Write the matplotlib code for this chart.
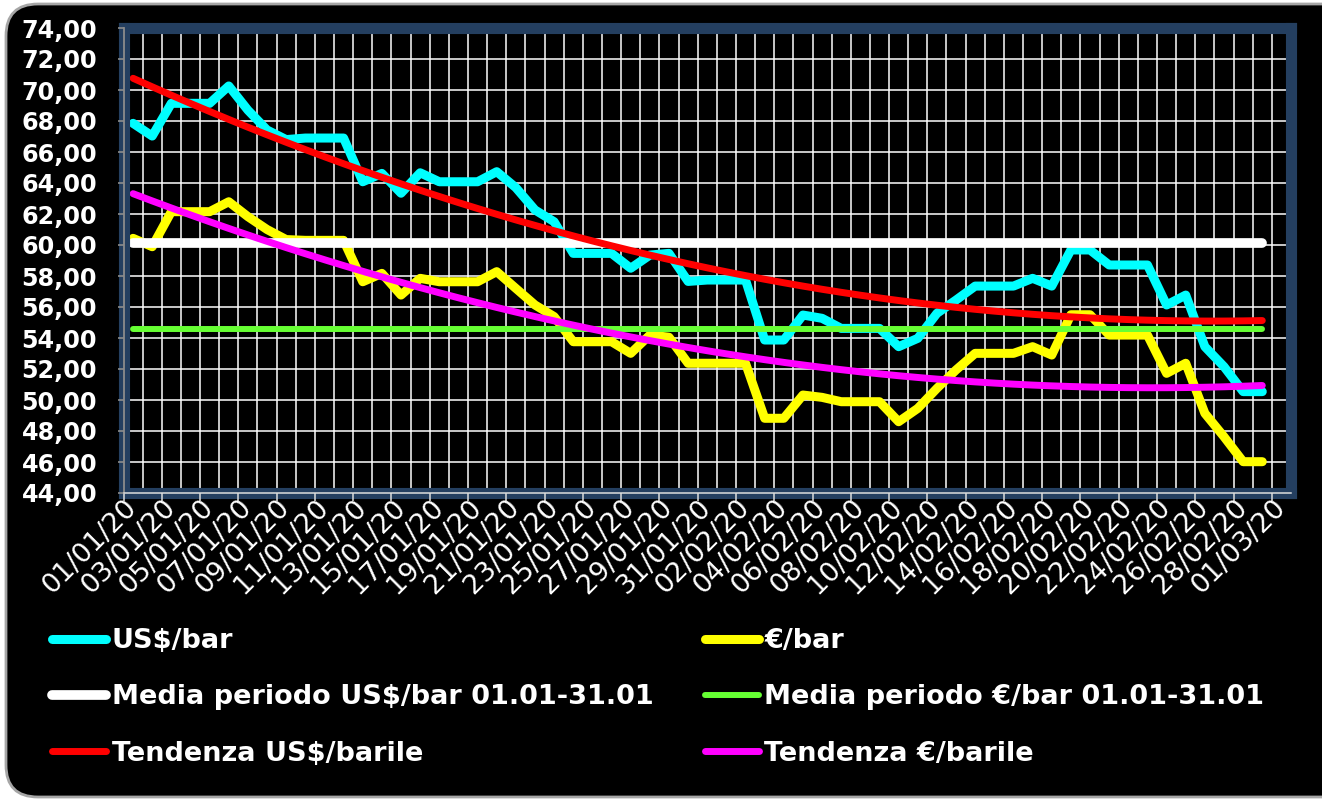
import numpy as np
import pandas as pd
import matplotlib
matplotlib.use('Agg')
import matplotlib.pyplot as plt
from matplotlib.patches import FancyBboxPatch
from matplotlib.transforms import IdentityTransform

# categorie dell'asse (01/01/20 - 01/03/20), una al giorno
giorni = pd.date_range('2020-01-01', '2020-03-01', freq='D')
etichette = [d.strftime('%d/%m/%y') for d in giorni[::2]]

# quotazioni giornaliere 01/01 - 29/02
usd_bar = [67.85, 67.03, 69.14, 69.14, 69.14, 70.26, 68.70, 67.42, 66.80, 66.90,
           66.90, 66.90, 64.08, 64.62, 63.34, 64.66, 64.08, 64.08, 64.08, 64.73,
           63.70, 62.26, 61.50, 59.46, 59.46, 59.46, 58.50, 59.35, 59.46, 57.65,
           57.74, 57.74, 57.74, 53.87, 53.87, 55.48, 55.27, 54.62, 54.62, 54.62,
           53.44, 53.98, 55.59, 56.45, 57.35, 57.35, 57.35, 57.85, 57.35, 59.68,
           59.68, 58.71, 58.71, 58.71, 56.13, 56.77, 53.44, 52.15, 50.54, 50.54]
eur_bar = [60.43, 59.89, 62.15, 62.15, 62.15, 62.79, 61.83, 61.00, 60.35, 60.30,
           60.30, 60.30, 57.63, 58.17, 56.77, 57.85, 57.63, 57.63, 57.63, 58.28,
           57.20, 56.13, 55.38, 53.76, 53.76, 53.76, 53.01, 54.19, 54.05, 52.37,
           52.37, 52.37, 52.37, 48.82, 48.82, 50.32, 50.17, 49.89, 49.89, 49.89,
           48.60, 49.46, 50.75, 51.94, 53.01, 53.01, 53.01, 53.44, 52.90, 55.50,
           55.50, 54.19, 54.19, 54.19, 51.72, 52.37, 49.14, 47.63, 46.02, 46.02]
media_usd = 60.15   # media periodo US$/bar 01.01-31.01
media_eur = 54.55   # media periodo €/bar 01.01-31.01

W, H = 1322, 799
plt.rcParams['font.family'] = 'DejaVu Sans'
fig = plt.figure(figsize=(W / 100, H / 100), dpi=100, facecolor='white')

# cornice esterna arrotondata
fig.patches.append(FancyBboxPatch((6, 2), W + 40, H - 6,
                                  boxstyle='round,pad=0,rounding_size=32',
                                  transform=IdentityTransform(), figure=fig, zorder=-5,
                                  facecolor='black', edgecolor='#A6A6A6', linewidth=2))

rect = [123.5 / W, (H - 493) / H, (1291 - 123.5) / W, (493 - 28) / H]
ax = fig.add_axes(rect, facecolor='black')
ax.set_xlim(0, len(giorni))
ax.set_ylim(44, 74)
ax.set_yticks(np.arange(44, 75, 2))
ax.yaxis.grid(True, color='white', lw=1.1)
ax.vlines(np.arange(1, len(giorni)), 44, 74, color='white', lw=1.1, zorder=1.5)
ax.tick_params(left=False, bottom=False, labelleft=False, labelbottom=False)
for s in ax.spines.values():
    s.set_color('#243F60')
    s.set_linewidth(8)
    s.set_capstyle('projecting')

x = np.arange(len(usd_bar)) + 0.5
n = len(usd_bar)
trend_usd = np.polyval(np.polyfit(x, usd_bar, 2), x)
trend_eur = np.polyval(np.polyfit(x, eur_bar, 2), x)

ax.plot(x, usd_bar, color='#00FFFF', lw=6.5, solid_capstyle='round', solid_joinstyle='round', label='US$/bar', zorder=2)
ax.plot(x, eur_bar, color='#FFFF00', lw=6.5, solid_capstyle='round', solid_joinstyle='round', label='€/bar', zorder=2.01)
ax.plot(x, np.full(n, media_usd), color='white', lw=7, solid_capstyle='round', label='Media periodo US$/bar 01.01-31.01', zorder=2.02)
ax.plot(x, np.full(n, media_eur), color='#66FF33', lw=4.3, solid_capstyle='round', label='Media periodo €/bar 01.01-31.01', zorder=2.03)
ax.plot(x, trend_usd, color='#FF0000', lw=5, solid_capstyle='round', label='Tendenza US$/barile', zorder=2.04)
ax.plot(x, trend_eur, color='#FF00FF', lw=5, solid_capstyle='round', label='Tendenza €/barile', zorder=2.05)

# assi e etichette sopra la cornice blu
ax2 = fig.add_axes(rect, facecolor='none')
ax2.set_zorder(ax.get_zorder() + 1)
ax2.set_xlim(0, len(giorni))
ax2.set_ylim(44, 74)
ax2.spines['top'].set_visible(False)
ax2.spines['right'].set_visible(False)
ax2.spines['left'].set_color('#8C8C8C')
ax2.spines['left'].set_linewidth(1.3)
ax2.spines['bottom'].set_color('#DDDDDD')
ax2.spines['bottom'].set_linewidth(1.1)

yt = np.arange(44, 75, 2)
ax2.set_yticks(yt, [f'{v:.2f}'.replace('.', ',') for v in yt])
ax2.tick_params(axis='y', direction='out', length=4.5, width=1.2, color='#8C8C8C',
                labelsize=17.2, labelcolor='white', pad=14.5)
for t in ax2.get_yticklabels():
    t.set_fontweight('bold')

ax2.set_xticks(np.arange(0, len(giorni), 2))
ax2.tick_params(axis='x', which='major', direction='out', length=6, width=1.1,
                color='#DDDDDD', labelbottom=False)
ax2.set_xticks(np.arange(0, len(giorni), 2) + 0.5, etichette, minor=True)
ax2.tick_params(axis='x', which='minor', length=0, labelsize=19.5, labelcolor='white', pad=8)
for t in ax2.get_xticklabels(minor=True):
    t.set_rotation(45)
    t.set_ha('right')
    t.set_va('center')
    t.set_rotation_mode('anchor')

# legenda per righe: US$ a sinistra, € a destra
h, l = ax.get_legend_handles_labels()
ordine = [0, 2, 4, 1, 3, 5]
leg = fig.legend([h[i] for i in ordine], [l[i] for i in ordine], loc='upper left', ncol=2,
                 bbox_to_anchor=(52 / W, 1 - 628 / H), frameon=False,
                 borderpad=0, borderaxespad=0, handlelength=2.0,
                 handletextpad=0.2, columnspacing=1.9, labelspacing=1.12,
                 labelcolor='white', prop={'weight': 'bold', 'size': 19.5})

fig.savefig('out.png', dpi=100, facecolor=fig.get_facecolor())
